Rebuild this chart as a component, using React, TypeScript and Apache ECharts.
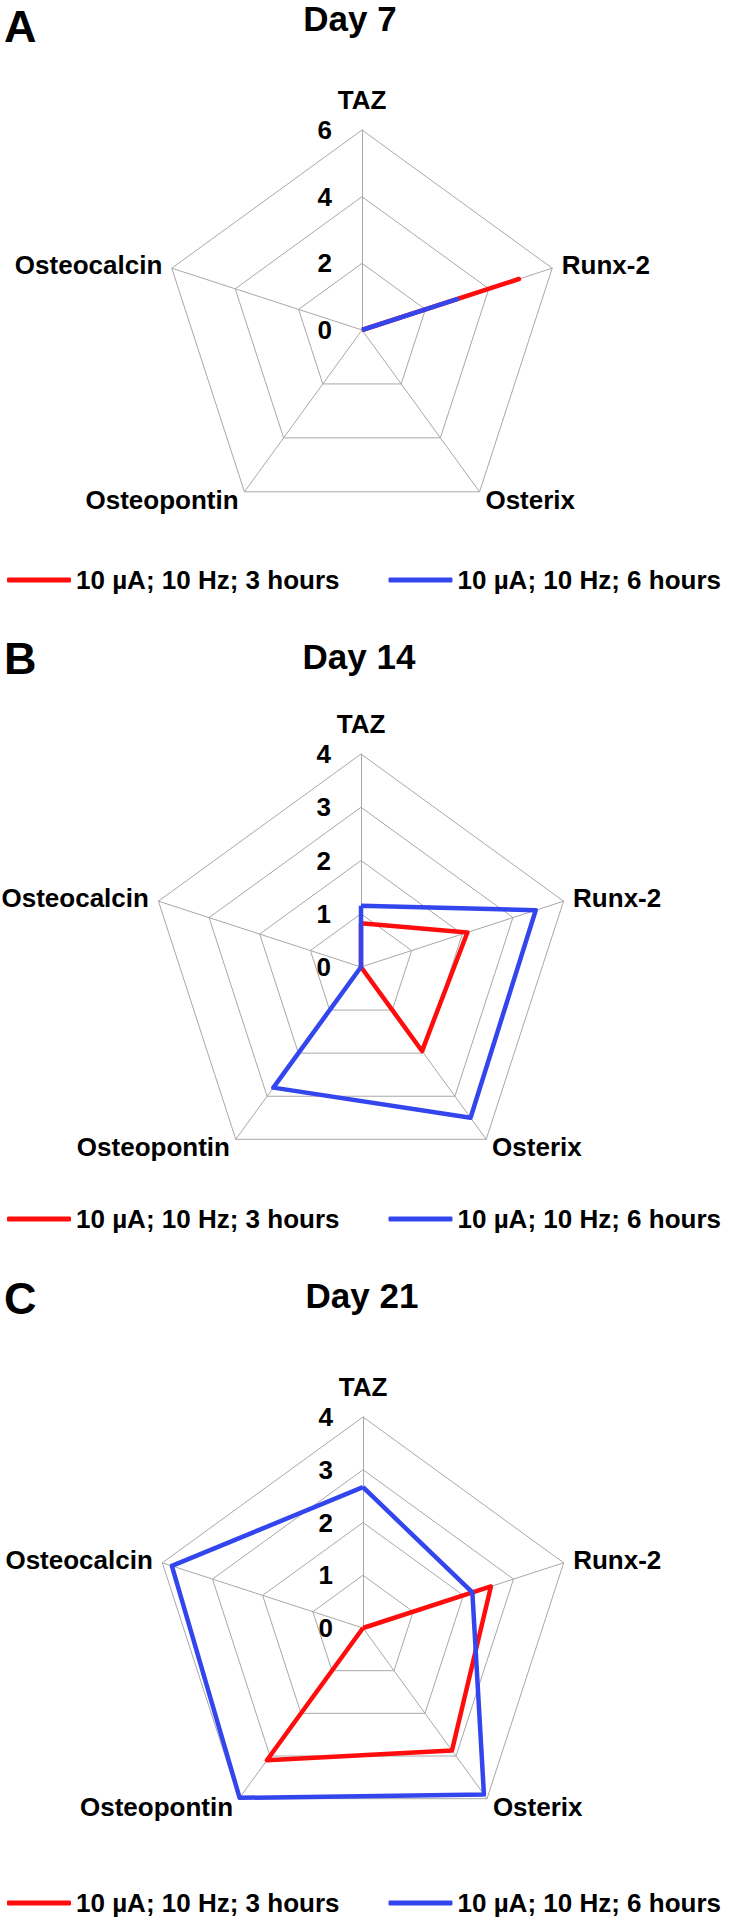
import React, { useEffect, useRef } from "react";
import * as echarts from "echarts";

// Indicators in ECharts radar order (counter-clockwise from the top)
const indicators = ["TAZ", "Osteocalcin", "Osteopontin", "Osterix", "Runx-2"];

const seriesNames = ["10 µA; 10 Hz; 3 hours", "10 µA; 10 Hz; 6 hours"];

const panelLetters = ["A", "B", "C"];
const panelTitles = ["Day 7", "Day 14", "Day 21"];
const panelMax = [6, 4, 4];
const panelSplits = [3, 4, 4];

// values in indicator order: TAZ, Osteocalcin, Osteopontin, Osterix, Runx-2
const day7ThreeHours = [0, 0, 0, 0, 4.95];
const day7SixHours = [0, 0, 0, 0, 3.0];
const day14ThreeHours = [0.82, 0, 0, 1.95, 2.1];
const day14SixHours = [1.15, 0, 2.8, 3.5, 3.45];
const day21ThreeHours = [0, 0, 3.1, 2.87, 2.55];
const day21SixHours = [2.67, 3.81, 3.98, 3.9, 2.18];

const threeHourValues = [day7ThreeHours, day14ThreeHours, day21ThreeHours];
const sixHourValues = [day7SixHours, day14SixHours, day21SixHours];

const RED = "#ff0d0d";
const BLUE = "#3346ee";
const GRID = "#a8a8a8";
const FONT = "'Liberation Sans', Arial, sans-serif";

// layout
const centers = [
  [362, 330],
  [361, 967],
  [363, 1628],
];
const radii = [200, 213, 211];
const letterY = [26, 658, 1298];
const titleX = [350, 359, 362];
const titleY = [18, 656, 1295];
const legendTop = [567, 1206, 1890];

export default function App() {
  const ref = useRef<HTMLDivElement>(null);

  useEffect(() => {
    if (!ref.current) return;
    const chart = echarts.init(ref.current, undefined, { renderer: "svg" });

    const radar = panelTitles.map((_, i) => ({
      center: centers[i],
      radius: radii[i],
      shape: "polygon",
      splitNumber: panelSplits[i],
      startAngle: 90,
      nameGap: 10,
      axisName: {
        color: "#000",
        fontWeight: "bold",
        fontSize: 26,
        fontFamily: FONT,
        padding: [7, 0, 7, 0],
      },
      indicator: indicators.map((name, k) => ({
        name,
        min: 0,
        max: panelMax[i],
        ...(k === 0
          ? {
              axisLabel: {
                show: true,
                margin: 30,
                color: "#000",
                fontWeight: "bold",
                fontSize: 26,
                fontFamily: FONT,
              },
            }
          : {}),
      })),
      axisLabel: { show: false },
      axisTick: { show: false },
      axisLine: { show: true, lineStyle: { color: GRID, width: 1 } },
      splitLine: { show: true, lineStyle: { color: GRID, width: 1 } },
      splitArea: { show: false },
    }));

    const series = panelTitles.map((_, i) => ({
      type: "radar",
      radarIndex: i,
      symbol: "none",
      lineStyle: { width: 4.5 },
      data: [
        {
          name: seriesNames[0],
          value: threeHourValues[i],
          lineStyle: { color: RED },
          itemStyle: { color: RED },
        },
        {
          name: seriesNames[1],
          value: sixHourValues[i],
          lineStyle: { color: BLUE },
          itemStyle: { color: BLUE },
        },
      ],
    }));

    const legend = panelTitles.map((_, i) => ({
      data: seriesNames,
      left: 7,
      top: legendTop[i],
      width: 724,
      padding: 0,
      orient: "horizontal",
      icon: "roundRect",
      itemWidth: 64,
      itemHeight: 5,
      itemGap: 49,
      selectedMode: false,
      textStyle: {
        color: "#000",
        fontWeight: "bold",
        fontSize: 26,
        fontFamily: FONT,
      },
    }));

    const graphic: any[] = [];
    panelTitles.forEach((t, i) => {
      graphic.push({
        type: "text",
        x: 4,
        y: letterY[i],
        style: {
          text: panelLetters[i],
          font: `bold 45px ${FONT}`,
          fill: "#000",
          textAlign: "left",
          textVerticalAlign: "middle",
        },
      });
      graphic.push({
        type: "text",
        x: titleX[i],
        y: titleY[i],
        style: {
          text: t,
          font: `bold 35px ${FONT}`,
          fill: "#000",
          textAlign: "center",
          textVerticalAlign: "middle",
        },
      });
    });

    chart.setOption({
      animation: false,
      backgroundColor: "#fff",
      radar,
      series,
      legend,
      graphic,
    });

    return () => chart.dispose();
  }, []);

  return (
    <div
      ref={ref}
      style={{ position: "absolute", left: 0, top: 0, width: 731, height: 1923 }}
    />
  );
}
